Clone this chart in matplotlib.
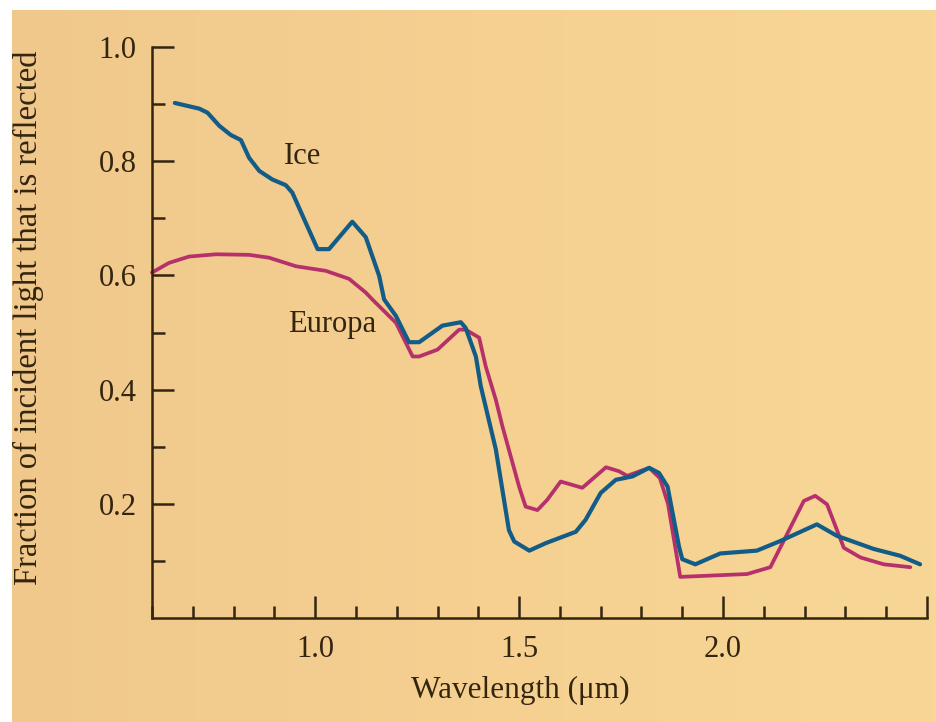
import numpy as np
import matplotlib
matplotlib.use("Agg")
import matplotlib.pyplot as plt
from matplotlib.colors import LinearSegmentedColormap
from matplotlib.ticker import MultipleLocator, FixedLocator

# Reflectance spectra: laboratory water ice vs. Europa
ice_wavelength = [0.656, 0.716, 0.736, 0.765, 0.793, 0.818, 0.838, 0.863, 0.895,
                  0.928, 0.944, 0.977, 1.006, 1.034, 1.091, 1.124, 1.157, 1.169,
                  1.198, 1.230, 1.255, 1.312, 1.357, 1.369, 1.394, 1.406, 1.443,
                  1.475, 1.488, 1.525, 1.565, 1.639, 1.663, 1.700, 1.737, 1.778,
                  1.819, 1.843, 1.864, 1.892, 1.900, 1.932, 1.993, 2.083, 2.141,
                  2.230, 2.279, 2.369, 2.434, 2.483]
ice_reflect = [0.902, 0.892, 0.885, 0.862, 0.846, 0.837, 0.806, 0.783, 0.768,
               0.758, 0.745, 0.692, 0.646, 0.646, 0.694, 0.667, 0.599, 0.558,
               0.529, 0.483, 0.483, 0.512, 0.518, 0.508, 0.458, 0.406, 0.295,
               0.154, 0.134, 0.118, 0.131, 0.151, 0.172, 0.219, 0.242, 0.248,
               0.263, 0.254, 0.230, 0.125, 0.103, 0.094, 0.113, 0.118, 0.135,
               0.164, 0.144, 0.121, 0.109, 0.094]

europa_wavelength = [0.600, 0.642, 0.691, 0.757, 0.838, 0.887, 0.953, 1.026,
                     1.083, 1.124, 1.140, 1.198, 1.239, 1.255, 1.300, 1.353,
                     1.369, 1.402, 1.418, 1.443, 1.459, 1.500, 1.516, 1.545,
                     1.569, 1.602, 1.655, 1.713, 1.745, 1.765, 1.819, 1.845,
                     1.865, 1.895, 2.059, 2.116, 2.157, 2.198, 2.226, 2.255,
                     2.296, 2.337, 2.394, 2.459]
europa_reflect = [0.605, 0.622, 0.633, 0.637, 0.636, 0.631, 0.616, 0.608,
                  0.594, 0.570, 0.558, 0.517, 0.458, 0.458, 0.470, 0.505,
                  0.505, 0.491, 0.441, 0.382, 0.336, 0.230, 0.195, 0.189,
                  0.207, 0.239, 0.228, 0.264, 0.257, 0.249, 0.263, 0.245,
                  0.200, 0.072, 0.077, 0.089, 0.147, 0.205, 0.214, 0.199,
                  0.123, 0.106, 0.094, 0.089]

x_major = [1.0, 1.5, 2.0]
x_major_labels = ["1.0", "1.5", "2.0"]
y_major = [0.2, 0.4, 0.6, 0.8, 1.0]
y_major_labels = ["0.2", "0.4", "0.6", "0.8", "1.0"]

ICE_COLOR = "#135c88"
EUROPA_COLOR = "#b6316c"
INK = "#33250f"
SERIF = ["Liberation Serif", "DejaVu Serif"]

plt.rcParams["font.family"] = SERIF

fig = plt.figure(figsize=(9.36, 7.22), dpi=100, facecolor="white")

# warm paper background
bg_ax = fig.add_axes([12 / 936, 0, 1 - 12 / 936, 1 - 10 / 722], zorder=0)
bg_ax.set_axis_off()
cmap = LinearSegmentedColormap.from_list("paper", ["#f0c88c", "#f5d091", "#f8d796"])
grad = np.linspace(0, 1, 256)[None, :] * np.ones((32, 1))
bg_ax.imshow(grad, aspect="auto", cmap=cmap, extent=[0, 1, 0, 1])

ax = fig.add_axes([152 / 936, 1 - 618 / 722, (927 - 152) / 936, (618 - 47) / 722], zorder=1)
ax.patch.set_alpha(0)

ax.plot(europa_wavelength, europa_reflect, color=EUROPA_COLOR, lw=2.7,
        solid_joinstyle="round", solid_capstyle="round", clip_on=False)
ax.plot(ice_wavelength, ice_reflect, color=ICE_COLOR, lw=3.0,
        solid_joinstyle="round", solid_capstyle="round", clip_on=False)

ax.set_xlim(0.6, 2.5)
ax.set_ylim(0.0, 1.0)

for s in ["top", "right"]:
    ax.spines[s].set_visible(False)
for s in ["left", "bottom"]:
    ax.spines[s].set_color(INK)
    ax.spines[s].set_linewidth(1.8)

ax.xaxis.set_major_locator(FixedLocator(x_major + [2.5]))
ax.set_xticklabels(x_major_labels + [""])
ax.xaxis.set_minor_locator(MultipleLocator(0.1))
ax.yaxis.set_major_locator(FixedLocator(y_major))
ax.set_yticklabels(y_major_labels)
ax.yaxis.set_minor_locator(FixedLocator([0.1, 0.3, 0.5, 0.7, 0.9]))

ax.tick_params(axis="both", which="major", direction="in", length=16, width=1.8,
               color=INK, labelcolor=INK, labelsize=22)
ax.tick_params(axis="both", which="minor", direction="in", length=9, width=1.8,
               color=INK)
ax.tick_params(axis="x", which="major", pad=12)
ax.tick_params(axis="y", which="major", pad=11)

ax.text(0.968, 0.809, "Ice", fontsize=22, color=INK, ha="center", va="center")
ax.text(1.042, 0.514, "Europa", fontsize=22, color=INK, ha="center", va="center")

fig.text(520 / 936, 1 - 690 / 722, "Wavelength (\u03bcm)", fontsize=22.5, color=INK,
         ha="center", va="center")
fig.text(28 / 936, 1 - 318 / 722, "Fraction of incident light that is reflected",
         fontsize=23.5, color=INK, ha="center", va="center", rotation=90)

fig.savefig("out.png", dpi=100, facecolor=fig.get_facecolor())
